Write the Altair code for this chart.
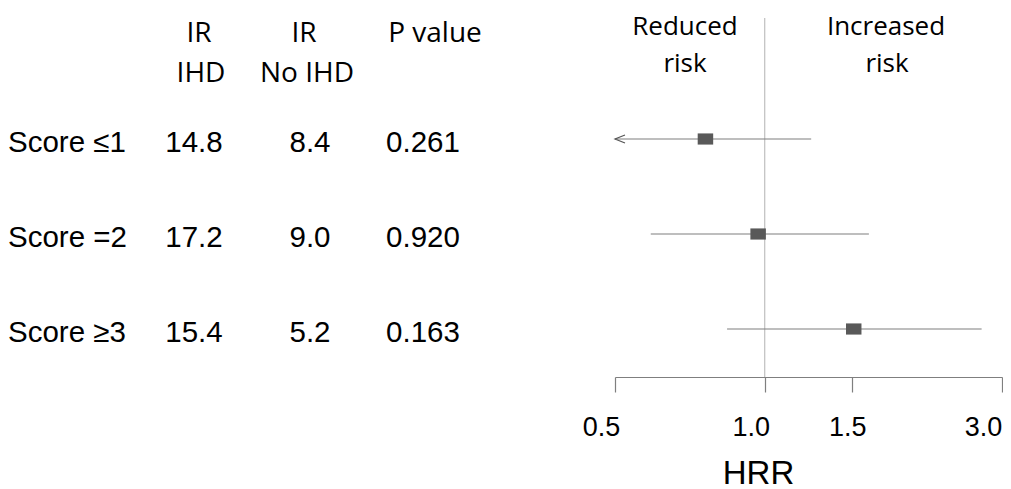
import altair as alt
import pandas as pd

labels = ["Score ≤1", "Score =2", "Score ≥3"]
ir_ihd = ["14.8", "17.2", "15.4"]
ir_no_ihd = ["8.4", "9.0", "5.2"]
p_values = ["0.261", "0.920", "0.163"]
hrr = [0.76, 0.97, 1.51]
ci_low = [0.5, 0.59, 0.84]
ci_high = [1.24, 1.62, 2.73]
arrow_left = [True, False, False]
x_ticks = [0.5, 1.0, 1.5, 3.0]

df = pd.DataFrame({
    "label": labels, "ihd": ir_ihd, "noihd": ir_no_ihd, "p": p_values,
    "hrr": hrr, "lo": ci_low, "hi": ci_high, "arrow": arrow_left,
})

xscale = alt.Scale(type="log", domain=[0.5, 3.0], range=[607, 994])
yscale = alt.Scale(type="point", domain=labels, range=[131, 321], padding=0)
Y = alt.Y("label:N", scale=yscale, axis=None)

base = alt.Chart(df)

ci = base.mark_rule(color="#7f7f7f", strokeWidth=1.2).encode(
    x=alt.X("lo:Q", scale=xscale, axis=alt.Axis(
        values=x_ticks, format=".1f", title="HRR", grid=False,
        domainColor="#7f7f7f", tickColor="#7f7f7f", tickSize=15,
        labelFont="Liberation Sans", labelFontSize=27, labelColor="black",
        labelPadding=22, labelFlush=False,
        labelOffset={"condition": [
            {"test": "datum.value === 1.5", "value": -5},
            {"test": "datum.value === 3", "value": -19}], "value": -14},
        titleFont="Liberation Sans", titleFontSize=33, titleFontWeight="normal",
        titleColor="black", titlePadding=17, titleX=750, titleAnchor="middle")),
    x2="hi:Q", y=Y)

arrow = base.transform_filter("datum.arrow").mark_point(
    shape="M2,-0.8L0,0L2,0.8", size=100, filled=False, stroke="#555555", strokeWidth=1.2, opacity=1
).encode(x=alt.X("lo:Q", scale=xscale), y=Y)

pts = base.mark_point(
    shape="M-1,-0.72L1,-0.72L1,0.72L-1,0.72Z", size=240, filled=True, color="#595959", opacity=1
).encode(x=alt.X("hrr:Q", scale=xscale), y=Y)

ref = alt.Chart(pd.DataFrame({"v": [1.0]})).mark_rule(color="#bfbfbf", strokeWidth=1.2).encode(
    x=alt.X("v:Q", scale=xscale), y=alt.value(10), y2=alt.value(369))

def col(field, xpos, align):
    return base.mark_text(font="Liberation Sans", fontSize=29.5, align=align,
                          baseline="middle", dy=4, color="black").encode(
        x=alt.value(xpos), y=Y, text=f"{field}:N")

t_label = col("label", 0, "left")
t_ihd = col("ihd", 186, "center")
t_noihd = col("noihd", 302, "center")
t_p = col("p", 415, "center")

header_text = ["IR", "IHD", "IR", "No IHD", "P value", "Reduced", "risk", "Increased", "risk"]
header_x = [191, 193, 296, 299, 427, 677, 677, 878, 879]
header_y = [34, 74, 34, 74, 34, 27, 64, 27, 64]
header_size = [28, 28, 28, 28, 28, 26, 26, 26, 26]
hdf = pd.DataFrame({"t": header_text, "x": header_x, "y": header_y, "s": header_size})

headers = []
for i in range(len(header_text)):
    headers.append(alt.Chart(hdf.iloc[[i]]).mark_text(
        font="Open Sans", fontSize=header_size[i], align="center", baseline="alphabetic", color="black"
    ).encode(x=alt.value(header_x[i]), y=alt.value(header_y[i]), text="t:N"))

chart = alt.layer(ref, ci, arrow, pts, t_label, t_ihd, t_noihd, t_p, *headers).properties(
    width=995, height=369,
    padding={"left": 0, "top": 0, "right": 0, "bottom": 112},
    autosize=alt.AutoSizeParams(type="none"),
).configure_view(stroke=None).configure_axis(domainWidth=1.2, tickWidth=1.2)

chart.save("out.html", embed_options={"renderer": "svg", "actions": False})
